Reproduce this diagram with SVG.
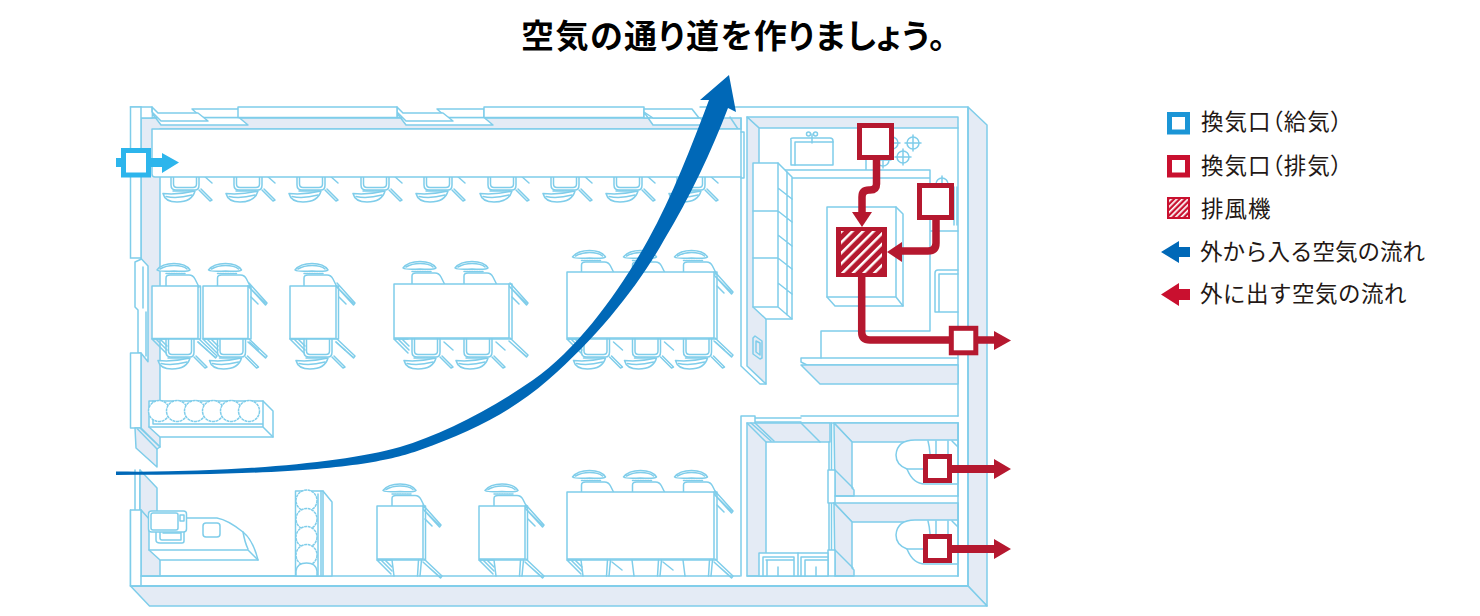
<svg xmlns="http://www.w3.org/2000/svg" width="1480" height="616" viewBox="0 0 1480 616">
<style>
.l{fill:none;stroke:#7fcdea;stroke-width:1.5;stroke-linejoin:round;stroke-linecap:round}
.w{fill:#fff;stroke:#7fcdea;stroke-width:1.5;stroke-linejoin:round}
.s{fill:#e4ebf5;stroke:#7fcdea;stroke-width:1.5;stroke-linejoin:round}
.d{fill:none;stroke:#b5182f;stroke-width:7.5;stroke-linejoin:round}
.rv{fill:#fff;stroke:#b5182f;stroke-width:5}
.h{fill:#b5182f}
text{font-family:"Noto Sans CJK JP","Noto Sans",sans-serif;fill:#231815}
.t{font-size:22.5px}
.p{font-feature-settings:"palt";letter-spacing:1px}
</style>
<defs>
<g id="cd">
<path class="l" d="M-14 -19V-5Q-14 0-9 0H10Q14 0 14 -5V-19M-11.500 -19V-6Q-11.500 -2.500-8 -2.500H8Q11.500 -2.500 11.500 -6V-19"/>
<path class="w" d="M-22 3.500Q-7 5 10 1Q7 12-8 12Q-20 12-22 3.500Z"/>
<path class="l" d="M-19 6.500Q-8 9 7 5"/>
<path class="l" d="M-12 1H8" stroke-dasharray="2 1"/>
<path class="l" d="M14 0L25 11L27 10L16 -1M18 -15L27 -7"/>
</g>
<g id="cu">
<path class="w" d="M-23 -5Q-18 -11.500-6 -11.500Q6 -11.500 10 -5Q8 -3-6 -4Q-20 -3-23 -5Z"/>
<path class="l" d="M-20 -6Q-14 -9.500-6 -9.500Q3 -9.500 7 -6"/>
<path class="l" d="M-14 -1.500H6" stroke-width="2.500" stroke-dasharray="1.500 1"/>
<path class="w" d="M-14 12V3Q-14 0-10 0H9Q13 0 15 4L19 12Z"/>
</g>
<g id="ta"><path class="l" d="M0 0L18 20L16.500 22L-1 3M0 4L16 20M2 14L9 21"/></g>
<g id="tb"><path class="l" d="M0 0L18 17L16.500 19L-1 3M0 4L16 18"/></g>
<g id="hk"><path class="l" d="M0 0L14 14M4 0L15 11M8 0L15 7M0 0H14"/></g>
<g id="win">
<path class="w" d="M0 6L9 18H96L87 10.500H0Z"/>
<path class="w" d="M40 2H87V10.500H49.500Z"/>
<path class="w" d="M0 0L6 6H46L56 14H9L0 5Z"/>
</g>
<pattern id="hl" width="7.500" height="7.500" patternUnits="userSpaceOnUse" patternTransform="rotate(45)"><rect width="7.500" height="7.500" fill="#b5182f"/><rect width="2.500" height="7.500" fill="#fff"/></pattern>
<pattern id="hs" width="4" height="4" patternUnits="userSpaceOnUse" patternTransform="rotate(45)"><rect width="4" height="4" fill="#c9102f"/><rect width="1.700" height="4" fill="#fff"/></pattern>
<circle id="p" r="10.500" class="w" stroke-dasharray="3 .6"/>
<g id="b"><circle r="6" class="w"/><path class="l" d="M-8 0H8M0 -8V8"/></g>
</defs>

<g id="title"><text x="521" y="48" font-size="33" font-weight="700" style="fill:#000;font-feature-settings:'palt';letter-spacing:1.500px">空気の通り道を作りましょう。</text></g>

<g id="building">
<!-- outer walls -->
<path class="s" d="M968 107L987 125V606L968 586Z"/>
<path class="s" d="M130.500 586H968L987 606H149.500Z"/>
<path class="l" d="M700 107H968V586M958 128V358M958 365V416M958 423V576M141 576H740M130.500 510V586H968"/>
<!-- dining wall -->
<path class="s" d="M141 118H741V129H160V447L141 428Z"/>
<path class="l" d="M730 117L738 129"/>
<use href="#win" x="152" y="107"/>
<use href="#win" x="397" y="107"/>
<rect class="w" x="130.500" y="107" width="21" height="11" stroke="none" style="stroke:none"/>
<path class="l" d="M130.500 107H152L152 112M141 118H152"/>
<rect class="w" x="238" y="107" width="159" height="10.500"/>
<rect class="w" x="484" y="107" width="160" height="10.500"/>
<path class="w" d="M644 112L653 125H708L700 118H644Z"/>
<path class="w" d="M644 109H692L699 118H653L644 112Z"/>
<path class="w" d="M130.500 107H141V258H130.500Z" style="stroke-linejoin:miter"/>
<path class="w" d="M135 262L141.500 259L148 266V361.700L141 353H138V310L135 307Z"/>
<path class="l" d="M143 267V308M146 312V356"/>
<path class="w" d="M130.500 353H141V428H130.500Z"/>
<path class="s" d="M135 428H140L160 447L157 449V467L136 448Z"/>
<path class="l" d="M137.500 429L157 449"/>
<!-- kitchen walls -->
<path class="s" d="M747 117H958V128H759Z"/>
<path class="s" d="M747 117L759 128V307L766 319V384L747 366Z"/>
<path class="l" d="M741 177V366L760 384H766M741 118V129"/>
<path class="w" d="M801 358H958V365H807L801 362Z"/>
<path class="s" d="M801 365L820 384H958V365Z"/>
<path class="l" d="M801 416H958M801 423H958"/>
<!-- kitchen furniture -->
<path class="w" d="M791 140Q790 138 793 138H830Q833 138 833 141V165H791Z"/>
<path class="l" d="M795 142H833M795 142V165"/>
<path class="l" d="M812 134V143"/><circle class="l" cx="808.500" cy="134" r="2"/><circle class="l" cx="815.500" cy="134" r="2"/>
<use href="#b" x="913" y="143"/><use href="#b" x="903" y="157"/><use href="#b" x="892" y="143"/><use href="#b" x="883" y="160"/><use href="#b" x="942" y="184"/>
<path class="l" d="M954 187V225M957 187V225"/>
<path class="l" d="M783 170H930V331H821V358M792 178H930M930 231H958M866 160V170"/>
<path class="w" d="M753 163H778L792 177V319H766L753 307Z"/>
<path class="l" d="M753 211H778M753 258H778M778 163V307L792 319M787 172V315M753 307H778M778 188L792 199M778 211L792 222M778 235L792 246M778 258L792 269M778 283L792 294"/>
<path class="w" d="M827 207H896L903 214V306H835L827 297Z"/>
<path class="l" d="M827 297H896V207M896 297L903 306"/>
<path class="l" d="M958 270H938Q935 270 935 273V312H958M958 274H939V312"/>
<path class="l" d="M753 338L755 336L762 341V358L760 359L753 354ZM756 341V352L760 355V343Z"/>
<!-- lower rooms -->
<path class="w" d="M741 416H755V423H748V576H741Z" style="stroke:none"/>
<path class="l" d="M741 576V416H755V423M755 418H801M755 422H801"/>
<path class="s" d="M747 423H830V442H766V576H747Z"/>
<path class="l" d="M747 423L766 442M751 423L771 441M755 423L774 441M801 423L820 442"/>
<path class="l" d="M829 442V470M831.500 423V470M829 503V550M831.500 503V550"/>
<path class="s" d="M834 423H958V442H852Z"/>
<path class="s" d="M834 423L852 442V488L854 490V496H835Z"/>
<path class="w" d="M828 470H835V503H828Z"/>
<path class="l" d="M835 470L853 488"/>
<path class="l" d="M835 496H958"/>
<path class="s" d="M834 503H958V522H852Z"/>
<path class="s" d="M834 503L852 522V568L854 570V576H835Z"/>
<path class="w" d="M828 550H835V576H828Z"/>
<path class="l" d="M835 550L853 568"/>
<path class="l" d="M747 576H828M835 576H958"/>
<path class="w" d="M958 440H915Q897 440 896 455Q896 465 907 469Q913 484 925 484H958Z"/>
<path class="l" d="M928 441Q931 452 930 470M936 441V470M948 441V470M907 469H925M952 441L958 447"/>
<path class="l" d="M958 423V496"/>
<path class="w" d="M958 520H915Q897 520 896 535Q896 545 907 549Q913 564 925 564H958Z"/>
<path class="l" d="M928 521Q931 532 930 550M936 521V550M948 521V550M907 549H925M952 521L958 527"/>
<path class="l" d="M958 503V576"/>
<path class="w" d="M759 553H828V576H759Z"/>
<path class="l" d="M763 557H794V576M763 557V576M766 560H793M767 560V576M798 553V576M801 557H828M801 557V576M805 560H828M805 560V576M778 567V576M816 567V576"/>
<!-- left lower wall -->
<path class="l" d="M135 470V510M140 470V510"/>
<path class="s" d="M140 470L157 488V531L141 510H140Z"/>
<path class="s" d="M141 510L160 531V576H141Z"/>
<path class="w" d="M130.500 510H141V586H130.500Z"/>
<path class="l" d="M130.500 586H968M141 576H295"/>
</g>

<g id="seats">
<use href="#cd" x="185" y="190"/><use href="#cd" x="248" y="190"/><use href="#cd" x="311" y="190"/><use href="#cd" x="375" y="190"/><use href="#cd" x="438" y="190"/><use href="#cd" x="502" y="190"/><use href="#cd" x="565" y="190"/><use href="#cd" x="628" y="190"/><use href="#cd" x="691" y="190"/>
<path class="w" d="M152 129H741V177H155Q152 177 152 174Z"/>
<path class="l" d="M741 132H744V178H741"/>
<use href="#cu" x="180" y="275"/><use href="#cu" x="231.500" y="275"/><use href="#cu" x="318" y="275"/><use href="#cu" x="426" y="273"/><use href="#cu" x="478" y="273"/><use href="#cu" x="595.500" y="262"/><use href="#cu" x="646.500" y="262"/><use href="#cu" x="697.500" y="262"/>
<use href="#cd" x="180" y="357"/><use href="#cd" x="231.500" y="357"/><use href="#cd" x="318" y="357"/><use href="#cd" x="426" y="357"/><use href="#cd" x="478" y="357"/><use href="#cd" x="595.500" y="357"/><use href="#cd" x="646.500" y="357"/><use href="#cd" x="697.500" y="357"/>
<use href="#ta" x="249" y="283"/><use href="#tb" x="249" y="339"/><use href="#tb" x="199" y="339"/><use href="#ta" x="337" y="283"/><use href="#tb" x="337" y="339"/><use href="#ta" x="510" y="283"/><use href="#tb" x="510" y="338"/><use href="#ta" x="715" y="272"/><use href="#tb" x="715" y="338"/>
<use href="#hk" x="152" y="339"/><use href="#hk" x="203" y="339"/><use href="#hk" x="290" y="339"/><use href="#hk" x="394" y="339"/><use href="#hk" x="567" y="339"/>
<rect class="w" x="152" y="286" width="46" height="52.500"/><path class="l" d="M198 286H200.500V339H152"/>
<rect class="w" x="203" y="286" width="45" height="52.500"/><path class="l" d="M248 286H251V339H203"/>
<rect class="w" x="290" y="286" width="46" height="52.500"/><path class="l" d="M336 286H338.500V339H290"/>
<rect class="w" x="394" y="284" width="115" height="54"/><path class="l" d="M509 284H512V339H394"/>
<rect class="w" x="567" y="272" width="147" height="66"/><path class="l" d="M714 272H717V339H567"/>
<!-- bottom row -->
<use href="#cu" x="406" y="495.500"/><use href="#cu" x="508" y="495.500"/><use href="#cu" x="595.500" y="482"/><use href="#cu" x="646.500" y="482"/><use href="#cu" x="697.500" y="482"/>
<use href="#ta" x="423" y="505"/><use href="#ta" x="526" y="505"/><use href="#ta" x="715" y="491"/>
<use href="#tb" x="424" y="559"/><use href="#tb" x="526" y="559"/><use href="#tb" x="715" y="559"/>
<use href="#hk" x="377" y="560"/><use href="#hk" x="479" y="560"/><use href="#hk" x="567" y="560"/>
<path class="l" d="M392 560L394 576M421.500 560L420 576M418.500 560L417.500 576M494 560L496 576M523.500 560L522 576M520.500 560L519.500 576M581 560L583 576M610.500 560L609 576M607.500 560L606.500 576M632 560L634 576M661.500 560L660 576M658.500 560L657.500 576M683 560L685 576M712.500 560L711 576M709.500 560L708.500 576M612 562L622 570M663 562L673 570"/>
<rect class="w" x="377" y="506" width="46" height="53"/><path class="l" d="M423 506H425.500V560H377"/>
<rect class="w" x="479" y="506" width="46" height="53"/><path class="l" d="M525 506H527.500V560H479"/>
<rect class="w" x="567" y="492" width="147" height="67"/><path class="l" d="M714 492H717V560H567"/>
<!-- planters -->
<path class="w" d="M149 401H263L273 411V437H160L149 427Z"/>
<path class="l" d="M153 401V424H263V401M149 427H263L273 437M263 424V427"/>
<use href="#p" x="159" y="411"/><use href="#p" x="177" y="411"/><use href="#p" x="195" y="411"/><use href="#p" x="213" y="411"/><use href="#p" x="231" y="411"/><use href="#p" x="249" y="411"/>
<path class="w" d="M295.500 491H323L332 502V576H295.500Z"/>
<path class="l" d="M318 494V576M321 491V576M323 491V576"/>
<use href="#p" x="306.500" y="500.500"/><use href="#p" x="306.500" y="519"/><use href="#p" x="306.500" y="537"/><use href="#p" x="306.500" y="555"/>
<path class="w" d="M296 576V571Q297 563 306.500 563Q316 563 317 571V576Z"/>
<!-- counter -->
<path class="w" d="M149 518H217Q228 520 243 532Q253 540 258 560H160L149 550Z"/>
<path class="l" d="M149 550H248L258 560M243 532Q245 543 248 549"/>
<rect class="w" x="203" y="523" width="17" height="14" rx="3"/>
<path class="w" d="M156 530H184V541Q184 543 182 543H160Q156 543 156 540Z"/>
<path class="l" d="M160 532V538Q160 540 162 540H181V532M163 533H180"/>
<rect class="w" x="148.500" y="511" width="38" height="21" rx="3"/>
<rect class="l" x="151" y="513" width="27" height="17" rx="2"/>
<rect class="l" x="180" y="515" width="4" height="6"/>
</g>

<g id="connectors">
<path fill="#0068b7" d="M116 471.500C220 473 340 464 400 447C440 435 490 410 533 380C580 347 620 290 648 240C672 197 692 145 709 100L700 100L729 75L736 112L728 108C712 150 690 197 664 240C640 283 600 335 548 380C510 413 470 432 420 450C380 464 320 475 116 475Z"/>
<rect x="116" y="158" width="8" height="9" fill="#2db5ec"/>
<path fill="#2db5ec" d="M149 158H162V153L179 162.500L162 173V167H149Z"/>
<path class="d" d="M876.500 160V184Q876.500 190 870 190H869Q862 190 862 197V214"/>
<path class="d" d="M936 220V243Q936 251 928 251H900"/>
<path class="d" d="M861.700 277V332Q861.700 340 870 340H996"/>
<path class="h" d="M852 212H872L862 227Z"/>
<path class="h" d="M887 252L902 242V262Z"/>
<path class="h" d="M994 331L1011 340.500L994 350Z"/>
<path class="h" d="M950 465H994V459L1011 469L994 479V473H950Z"/>
<path class="h" d="M950 545H994V539L1011 549L994 559V553H950Z"/>
</g>

<g id="vent-supply"><rect x="123.500" y="150.500" width="25" height="24.500" fill="#fff" stroke="#2db5ec" stroke-width="5"/></g>
<g id="vent-1"><rect class="rv" x="859.500" y="125.500" width="32" height="32"/></g>
<g id="vent-2"><rect class="rv" x="919.500" y="185.500" width="32" height="32"/></g>
<g id="fan"><rect x="836" y="227" width="51" height="50" fill="#b5182f"/><rect x="841" y="231" width="41" height="42" fill="url(#hl)"/></g>
<g id="vent-3"><rect class="rv" x="951.300" y="328.300" width="24.500" height="24.500"/></g>
<g id="vent-4"><rect class="rv" x="925.500" y="456.500" width="24" height="24"/></g>
<g id="vent-5"><rect class="rv" x="925.500" y="536.500" width="24" height="24"/></g>

<g id="legend">
<rect x="1169.500" y="114.500" width="18" height="17.500" fill="#fff" stroke="#1b95d6" stroke-width="5"/>
<text class="t p" x="1201" y="130">換気口（給気）</text>
<rect x="1169.500" y="157.500" width="18" height="17.500" fill="#fff" stroke="#c9102f" stroke-width="5"/>
<text class="t p" x="1201" y="174">換気口（排気）</text>
<rect x="1167" y="197" width="23" height="22" fill="#c9102f"/><rect x="1169" y="199" width="19" height="18" fill="url(#hs)"/>
<text class="t" x="1201" y="217" style="letter-spacing:1px">排風機</text>
<path fill="#0068b7" d="M1161 252L1179 241V247H1190V257H1179V263Z"/>
<text class="t" x="1200" y="260">外から入る空気の流れ</text>
<path fill="#c9102f" d="M1161 294.500L1179 283V289H1190V300H1179V306Z"/>
<text class="t" x="1200" y="302" style="letter-spacing:.5px">外に出す空気の流れ</text>
</g>
</svg>
